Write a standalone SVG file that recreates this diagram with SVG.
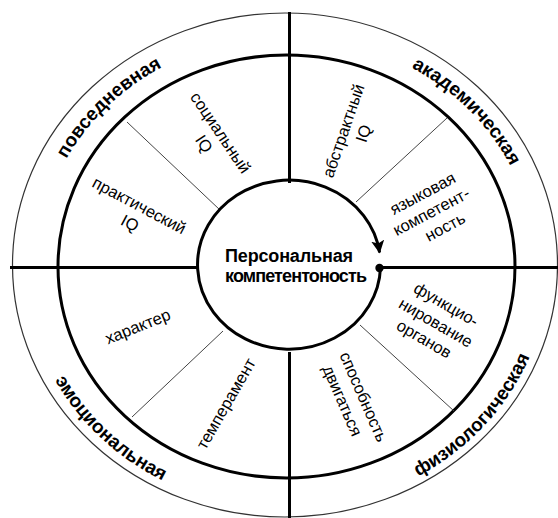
<svg xmlns="http://www.w3.org/2000/svg" xmlns:xlink="http://www.w3.org/1999/xlink" width="558" height="518" viewBox="0 0 558 518">
<style>
  .thick { fill: none; stroke: #000; stroke-width: 3; }
  .thin { fill: none; stroke: #444; stroke-width: 1; }
  .outer { fill: none; stroke: #333; stroke-width: 1.2; }
  .lbl { font-family: "Liberation Sans", Arial, sans-serif; font-size: 16.5px; fill: #000; text-anchor: middle; }
  .ring { font-family: "Liberation Sans", Arial, sans-serif; font-size: 19px; font-weight: bold; fill: #000; text-anchor: middle; }
  .core { font-family: "Liberation Sans", Arial, sans-serif; font-size: 18px; font-weight: bold; fill: #000; }
</style>
<defs>
  <marker id="arrow" viewBox="0 0 13 13" refX="12" refY="6.5" markerWidth="13" markerHeight="13" markerUnits="userSpaceOnUse" orient="auto">
    <path d="M0,0 L13,6.5 L0,13 L3,6.5 Z" fill="#000"/>
  </marker>
  <path id="arcTop" d="M 37.5 266.5 A 249 230 0 0 1 535.5 266.5"/>
  <path id="arcBot" d="M 24.5 266.5 A 262 243 0 0 0 548.5 266.5"/>
</defs>
<rect width="558" height="518" fill="#fff"/>

<g id="rings">
  <ellipse id="outer-ring" class="outer" cx="285" cy="265" rx="272.5" ry="252"/>
  <ellipse id="middle-ring" class="thick" cx="286.5" cy="266.5" rx="228.5" ry="211.5"/>
</g>

<g id="connectors">
  <line class="thick" x1="289.5" y1="12" x2="289.5" y2="183"/>
  <line class="thick" x1="289.5" y1="352" x2="289.5" y2="518"/>
  <line class="thick" x1="10" y1="267.5" x2="198" y2="267.5"/>
  <line class="thick" x1="380" y1="267.5" x2="558" y2="267.5"/>
  <line class="thin" x1="220" y1="210" x2="127" y2="122"/>
  <line class="thin" x1="356" y1="202" x2="447" y2="118"/>
  <line class="thin" x1="223" y1="331" x2="132" y2="417"/>
  <line class="thin" x1="360" y1="325" x2="454" y2="411"/>
</g>

<g id="core">
  <path class="thick" d="M 380.5 267.5 A 91.5 84.5 0 1 1 379.6 252.5" marker-end="url(#arrow)"/>
  <circle cx="379.5" cy="268" r="4.2" fill="#000"/>
  <text class="core" x="225" y="262" textLength="128">Персональная</text>
  <text class="core" x="225" y="282" textLength="142">компетентоность</text>
</g>

<g id="sphere-everyday">
  <text class="ring"><textPath href="#arcTop" xlink:href="#arcTop" startOffset="23.9%">повседневная</textPath></text>
</g>
<g id="sphere-academic">
  <text class="ring"><textPath href="#arcTop" xlink:href="#arcTop" startOffset="76.7%">академическая</textPath></text>
</g>
<g id="sphere-emotional">
  <text class="ring"><textPath href="#arcBot" xlink:href="#arcBot" startOffset="24.4%">эмоциональная</textPath></text>
</g>
<g id="sphere-physiological">
  <text class="ring"><textPath href="#arcBot" xlink:href="#arcBot" startOffset="77.8%">физиологическая</textPath></text>
</g>

<g id="social-iq">
  <text class="lbl" transform="translate(220,133) rotate(56)"><tspan x="0" y="5">социальный</tspan><tspan x="0" y="25">IQ</tspan></text>
</g>
<g id="practical-iq">
  <text class="lbl" transform="translate(139,206) rotate(28)"><tspan x="0" y="5">практический</tspan><tspan x="0" y="25">IQ</tspan></text>
</g>
<g id="abstract-iq">
  <text class="lbl" transform="translate(344,131) rotate(-71)"><tspan x="0" y="5">абстрактный</tspan><tspan x="4" y="25">IQ</tspan></text>
</g>
<g id="language">
  <text class="lbl" transform="translate(423,194) rotate(-28)"><tspan x="0" y="5">языковая</tspan><tspan x="-1" y="25">компетент-</tspan><tspan x="4" y="45">ность</tspan></text>
</g>
<g id="organs">
  <text class="lbl" transform="translate(446,305) rotate(30)"><tspan x="0" y="5">функцио-</tspan><tspan x="0" y="26">нирование</tspan><tspan x="-2" y="46">органов</tspan></text>
</g>
<g id="movement">
  <text class="lbl" transform="translate(363,397) rotate(66.5)"><tspan x="0" y="5">способность</tspan><tspan x="-5" y="26">двигаться</tspan></text>
</g>
<g id="character">
  <text class="lbl" transform="translate(138,327) rotate(-22)"><tspan x="0" y="5">характер</tspan></text>
</g>
<g id="temperament">
  <text class="lbl" transform="translate(226.5,404) rotate(-60)"><tspan x="0" y="5">темперамент</tspan></text>
</g>
</svg>
